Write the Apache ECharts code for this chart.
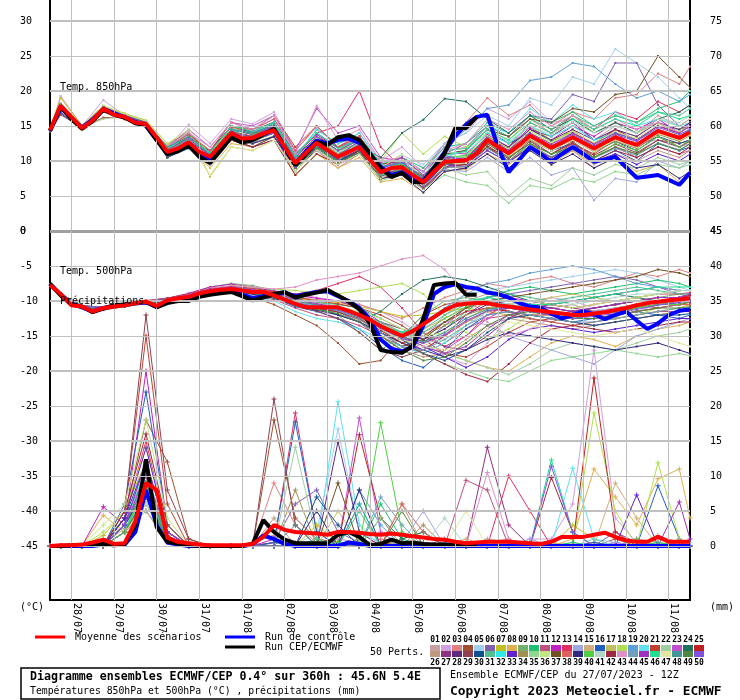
<!DOCTYPE html>
<html><head><meta charset="utf-8">
<script src="https://cdn.jsdelivr.net/npm/echarts@6/dist/echarts.min.js"></script>
<style>html,body{margin:0;padding:0;background:#fff}#c{width:740px;height:700px}</style>
</head><body><div id="c"></div>
<script>
// ---------- DATA ----------
const hours6 = [0,6,12,18,24,30,36,42,48,54,60,66,72,78,84,90,96,102,108,114,120,126,132,138,144,150,156,162,168,174,180,186,192,198,204,210,216,222,228,234,240,246,252,258,264,270,276,282,288,294,300,306,312,318,324,330,336,342,348,354,360];
const memberHours = [0,6,18,30,42,54,66,78,90,102,114,126,138,150,162,174,186,198,210,222,234,246,258,270,282,294,306,318,330,342,354,360];
const dateHours = [12,36,60,84,108,132,156,180,204,228,252,276,300,324,348];
const dateLabels = ['28/07','29/07','30/07','31/07','01/08','02/08','03/08','04/08','05/08','06/08','07/08','08/08','09/08','10/08','11/08'];
const leftUpperTicks = [0,5,10,15,20,25,30];
const rightUpperTicks = [45,50,55,60,65,70,75];
const leftLowerTicks = [0,-5,-10,-15,-20,-25,-30,-35,-40,-45];
const rightLowerTicks = [0,5,10,15,20,25,30,35,40,45];

const mean850 = [14.4,17.9,16.3,14.7,15.8,17.5,16.6,16.3,15.5,15.3,13.4,11.3,11.8,12.7,11.3,10.6,12.3,14.0,13.2,13.3,13.9,14.4,12.0,9.7,11.2,12.6,11.6,10.6,11.3,12.0,10.2,8.4,9.0,9.1,8.0,7.0,8.5,9.9,10.0,10.1,11.1,13.0,12.0,11.1,12.3,13.6,12.8,11.9,12.6,13.4,12.6,11.8,12.6,13.4,12.8,12.3,13.3,14.3,13.8,13.3,14.1];
const ctrl850 = [14.3,17.6,16.2,14.8,15.9,17.4,16.8,16.2,15.6,15.0,13.0,11.0,11.6,12.4,11.0,10.0,11.8,13.6,12.8,13.1,13.8,14.5,11.8,9.6,11.4,12.9,12.5,13.0,13.2,12.6,10.8,9.2,8.0,8.4,7.6,7.2,9.0,11.3,13.6,15.2,16.3,16.6,12.0,8.4,10.2,12.0,11.0,9.9,11.0,12.0,11.0,9.9,10.2,10.6,9.1,7.6,7.8,8.0,7.3,6.6,8.3];
const oper850 = [14.3,17.8,16.0,14.6,15.7,17.3,16.6,16.2,15.4,15.1,13.0,11.0,11.4,12.2,10.6,9.7,11.5,13.4,12.6,13.0,13.8,14.6,12.0,9.4,11.0,12.7,12.3,13.4,13.7,13.0,11.1,9.0,7.7,8.3,7.0,7.0,9.0,11.1,14.7,14.7,16.3];
const mean500 = [-7.7,-9.0,-10.6,-10.8,-11.5,-11.0,-10.8,-10.6,-10.3,-10.1,-10.7,-9.9,-9.6,-9.4,-8.9,-8.6,-8.4,-8.3,-8.5,-8.7,-8.7,-9.2,-9.8,-10.4,-10.9,-10.9,-10.9,-10.9,-11.4,-12.0,-12.7,-13.6,-14.3,-15.0,-14.3,-13.3,-12.3,-11.3,-10.6,-10.4,-10.3,-10.3,-10.6,-10.8,-11.0,-11.2,-11.4,-11.6,-11.8,-12.0,-12.0,-11.8,-11.6,-11.3,-11.0,-10.6,-10.3,-10.1,-9.9,-9.8,-9.6];
const ctrl500 = [-7.6,-9.1,-10.4,-10.9,-11.5,-11.0,-10.7,-10.5,-10.3,-10.2,-10.8,-10.2,-9.9,-9.8,-9.3,-9.0,-8.8,-8.6,-9.1,-9.6,-9.3,-9.1,-8.8,-9.3,-9.0,-8.7,-8.6,-9.3,-10.0,-11.0,-12.6,-15.5,-16.8,-17.2,-16.6,-13.5,-9.0,-8.0,-7.6,-8.0,-8.2,-8.8,-9.0,-9.5,-10.3,-10.8,-11.0,-11.8,-12.5,-12.0,-11.5,-11.9,-12.6,-12.0,-11.5,-12.8,-14.0,-13.2,-12.0,-11.4,-11.2];
const oper500 = [-7.5,-9.2,-10.5,-10.8,-11.6,-11.1,-10.6,-10.5,-10.2,-10.1,-10.9,-10.3,-10.0,-10.0,-9.4,-9.1,-8.9,-8.7,-9.3,-9.9,-9.5,-9.0,-8.7,-9.5,-9.1,-8.8,-8.4,-9.2,-10.1,-11.2,-13.2,-17.0,-17.3,-17.4,-16.4,-12.5,-7.7,-7.5,-7.4,-9.1,-9.1];
const meanPrecip = [0,0.1,0.1,0.2,0.5,0.9,0.3,0.4,3.5,9.0,8.0,1.2,0.6,0.4,0.2,0.1,0.1,0.1,0.1,0.3,1.3,3.0,2.3,2.0,1.9,1.8,1.6,2.0,2.0,1.9,1.7,1.6,1.8,1.6,1.4,1.2,1.0,0.9,0.6,0.4,0.5,0.6,0.6,0.6,0.5,0.4,0.3,0.6,1.3,1.3,1.3,1.6,1.9,1.3,0.8,0.6,0.6,1.3,0.6,0.6,0.6];
const ctrlPrecip = [0,0,0,0,0,0.2,0.1,0.2,2,8,3,0.5,0.2,0,0,0,0,0,0,0.2,1.5,1,0.3,0,0,0,0,0,0.5,0.3,0,0,0,0,0,0,0,0,0,0,0,0,0,0,0,0,0,0,0,0,0,0,0,0,0,0,0,0,0,0,0];
const operPrecip = [0,0,0.1,0.1,0.2,0.3,0.1,0.3,3.0,12.4,2.7,0.6,0.3,0.1,0,0,0,0,0,0.3,3.7,2.0,0.9,0.4,0.4,0.4,0.4,1.6,2.0,1.3,0.1,0.3,0.9,0.4,0.5,0.3,0.2,0.2,0.1,0.1,0.1];

const memberColors = ['#c8a0a0','#d0a0e0','#e08080','#a05030','#a0d0f0','#8060b0','#c0c020','#e0b050','#70b070','#20c070','#c05080','#c020c0','#e03060','#a0a8e0','#d0b080','#2060c0','#c0c060','#b0e050','#60a0d8','#60e0f0','#c04030','#a0d0a0','#c050d0','#207060','#c02020',
'#c09880','#903080','#602880','#904050','#105090','#50c090','#30e8e8','#6020d0','#a09050','#90d890','#c0e880','#705020','#e06060','#302880','#50d040','#b0d8c8','#a02840','#e090c8','#70a0b8','#a030c0','#20e090','#e0e8a0','#409898','#508840','#8050e0'];

const members850 = [
[14.5,18.2,14.9,17.8,16.0,15.0,12.3,14.2,11.1,15.0,13.8,15.4,11.2,13.6,10.6,13.0,9.9,10.1,7.5,11.4,12.0,15.0,13.5,16.0,14.0,15.5,13.0,15.0,14.0,16.5,15.0,16.0],
[14.3,19.3,15.0,18.7,16.5,15.5,12.0,15.2,12.5,16.0,15.3,17.0,11.5,14.8,12.0,14.0,10.0,12.0,9.0,12.5,14.0,17.5,16.0,18.5,15.5,16.0,13.0,14.5,12.5,13.0,12.0,12.5],
[14.6,18.0,14.5,17.2,16.4,15.6,11.8,13.2,9.5,13.0,12.0,13.5,8.5,11.5,9.0,11.0,8.0,9.5,8.5,12.5,15.5,19.0,16.5,18.0,15.0,17.0,16.0,19.0,19.5,22.5,21.0,23.5],
[14.2,16.6,14.8,16.2,16.2,15.0,11.0,12.0,9.8,13.0,12.5,14.5,10.0,13.5,11.5,13.0,9.0,8.5,6.0,8.5,9.0,12.0,10.5,12.5,11.0,12.8,10.5,12.0,11.0,13.0,12.5,13.0],
[14.4,17.8,14.6,17.6,16.6,15.4,11.6,13.5,11.5,15.0,14.0,15.5,10.5,14.0,12.0,13.0,9.5,10.8,9.5,12.5,14.0,16.5,15.0,19.0,18.0,22.0,21.0,26.0,24.0,22.0,19.0,17.5],
[14.3,18.1,14.5,17.4,16.1,15.2,10.5,12.0,9.5,13.0,12.5,13.5,9.0,12.0,10.0,11.5,8.0,9.5,7.8,11.0,12.5,15.0,13.5,16.5,16.0,19.5,18.5,24.0,24.0,18.0,15.0,14.5],
[14.6,19.0,15.1,17.9,16.8,15.8,12.5,14.0,7.8,12.0,11.5,13.0,8.0,11.0,9.5,11.5,7.5,9.0,6.5,10.0,10.8,13.5,11.5,14.0,12.5,14.5,12.0,13.5,12.0,14.5,13.0,14.0],
[14.4,17.6,14.4,17.1,15.9,14.9,10.8,12.2,9.0,12.5,12.0,13.0,8.0,11.0,9.0,10.5,7.0,7.5,5.5,8.5,8.8,11.0,9.5,11.5,9.5,11.5,9.0,10.5,8.5,9.5,7.0,8.0],
[14.5,17.9,14.8,17.6,16.4,15.3,11.8,13.5,11.5,15.0,14.5,15.5,10.5,14.5,12.5,13.5,9.5,10.0,7.5,10.5,10.5,13.2,11.8,14.5,12.8,14.2,12.5,14.0,13.0,15.0,14.5,15.0],
[14.3,18.0,14.6,17.5,16.2,15.1,11.1,12.6,10.0,13.5,13.0,14.0,9.5,13.0,11.5,13.0,9.5,10.5,9.0,12.0,12.5,15.5,14.0,16.5,15.5,17.0,15.0,16.5,15.5,17.5,18.5,20.0],
[14.4,17.7,14.7,17.3,16.3,15.4,11.5,12.9,10.9,14.3,13.5,14.8,9.5,12.0,10.0,11.0,7.5,8.5,6.5,9.0,10.2,12.5,10.8,13.0,11.0,12.5,10.5,12.0,10.5,12.0,11.0,11.5],
[14.5,18.1,14.9,17.7,16.5,15.5,11.7,13.3,11.4,14.9,14.2,15.6,11.0,13.8,11.8,13.2,9.8,10.5,8.5,11.2,11.0,13.8,12.0,14.8,13.0,15.0,13.5,15.5,14.5,16.0,14.0,15.5],
[14.3,17.8,14.6,17.4,16.3,15.2,11.0,12.5,10.5,14.5,14.0,15.0,10.5,14.0,15.0,20.0,12.0,9.0,7.0,9.5,10.0,13.0,12.0,15.5,14.0,16.5,14.5,17.0,16.0,18.5,17.0,18.0],
[14.4,17.9,14.7,17.5,16.2,15.2,11.1,12.4,10.3,13.6,12.9,14.0,9.2,12.1,10.2,11.5,7.8,8.5,6.2,8.8,8.5,10.5,8.5,10.5,8.0,9.0,4.4,7.5,7.0,10.0,9.0,10.0],
[14.5,18.0,14.8,17.6,16.4,15.4,12.0,14.0,11.0,14.5,14.0,15.5,11.0,13.0,10.0,12.5,8.0,9.0,6.5,9.5,9.8,12.5,10.5,13.0,11.5,13.5,12.0,14.5,13.5,16.0,15.0,16.0],
[14.2,16.8,14.6,17.3,16.1,15.0,10.5,11.8,9.5,13.0,12.0,13.0,8.5,12.0,11.0,12.5,9.0,9.5,8.0,11.0,11.5,14.5,12.5,14.0,11.5,12.5,10.0,11.5,10.0,12.5,11.5,12.0],
[14.6,18.2,15.0,17.8,16.7,15.7,11.7,13.1,11.1,14.5,13.7,14.9,10.3,13.2,11.2,12.6,9.0,9.6,7.6,10.8,11.5,14.5,13.0,16.0,14.5,16.5,14.0,15.5,14.0,15.5,13.5,14.5],
[14.4,17.8,14.6,17.5,16.3,15.3,12.0,13.0,10.0,13.5,13.0,14.5,10.0,12.5,11.5,13.0,10.0,14.0,11.0,13.5,12.0,14.0,12.5,15.0,13.0,14.0,12.0,13.5,12.5,14.0,13.0,14.0],
[14.5,18.0,14.8,17.6,16.4,15.3,11.0,13.5,11.0,15.0,14.5,16.0,11.0,14.0,12.0,13.0,9.0,10.0,8.5,12.0,14.5,17.5,18.0,21.5,22.0,24.0,23.5,21.0,19.0,20.0,18.5,19.5],
[14.4,17.9,14.7,17.5,16.3,15.3,11.3,12.8,10.9,14.4,13.8,15.0,10.6,13.4,11.4,12.6,9.0,9.2,7.0,10.5,11.5,15.0,14.0,17.5,15.5,18.0,16.0,17.0,15.0,16.0,15.0,15.5],
[14.3,17.7,14.5,17.3,16.1,15.1,11.5,13.5,11.5,15.5,14.5,16.5,12.0,15.0,12.0,13.5,9.0,8.8,6.8,9.6,9.5,12.0,10.0,12.5,10.5,12.5,11.0,13.0,12.0,14.0,13.5,14.5],
[14.5,17.9,14.8,16.0,16.4,15.4,11.0,12.0,9.5,13.0,12.5,13.5,9.0,11.5,10.0,11.0,8.0,8.5,6.5,9.0,8.0,8.5,5.0,7.5,6.5,9.0,8.0,9.5,9.0,10.5,9.5,10.0],
[14.4,17.8,14.7,17.4,16.2,15.2,12.0,14.5,12.0,15.5,15.0,16.5,11.5,17.5,14.0,15.0,10.5,10.0,7.5,10.0,10.0,12.8,11.0,13.5,11.8,13.3,11.7,13.3,12.2,14.2,13.2,14.0],
[14.3,17.7,14.5,17.3,16.1,15.1,11.1,12.5,10.4,13.8,13.1,14.2,9.5,12.5,10.8,12.2,10.5,14.0,15.9,18.9,18.5,16.0,14.0,16.5,14.5,16.0,14.0,15.5,14.0,16.0,17.0,18.0],
[14.5,18.1,14.9,17.7,16.5,15.5,11.5,12.9,10.8,14.2,13.5,14.6,9.9,13.5,12.0,13.5,9.5,10.0,7.2,10.0,10.2,13.0,11.0,13.5,12.0,14.0,12.5,14.5,13.0,15.0,14.0,15.0],
[14.4,17.9,14.7,17.5,16.3,15.3,11.2,12.6,10.5,13.9,13.2,14.3,9.0,11.5,9.5,11.0,7.5,8.6,6.5,9.2,9.0,11.5,9.8,12.0,10.0,11.5,9.5,11.0,10.0,11.5,10.5,11.5],
[14.3,17.0,14.5,17.2,16.0,15.0,10.9,12.3,10.2,13.6,12.9,14.0,9.3,12.2,10.2,11.6,8.1,8.8,6.7,9.5,9.8,12.8,11.5,14.5,13.5,15.5,13.0,14.0,12.0,13.5,12.0,13.0],
[14.5,18.0,14.8,17.6,16.4,15.4,12.0,13.8,11.5,15.0,14.0,15.0,10.0,12.0,10.0,11.0,7.5,8.0,6.0,9.0,10.5,13.5,12.0,14.5,13.0,14.5,13.0,14.5,13.5,15.5,14.5,15.5],
[14.4,17.8,14.6,17.4,16.2,15.2,10.8,12.0,10.0,13.5,13.5,15.5,11.0,13.0,11.0,12.5,8.0,9.5,7.5,10.5,9.6,12.2,10.3,12.8,11.0,12.6,10.8,12.4,11.2,13.0,12.0,12.8],
[14.3,17.7,14.6,17.3,16.2,15.1,10.6,12.0,10.8,14.5,13.8,15.0,10.2,13.0,10.0,11.2,8.8,9.8,7.2,10.2,9.7,12.5,10.8,13.2,11.6,13.0,11.4,12.8,11.5,13.5,12.5,13.0],
[14.5,18.1,14.9,17.8,16.6,15.6,12.0,14.0,11.5,14.5,13.0,14.0,9.0,12.0,10.0,11.5,8.0,9.5,8.0,11.5,11.8,15.0,13.5,16.0,14.5,16.5,15.0,16.5,15.5,17.0,16.5,17.5],
[14.4,17.9,14.7,17.5,16.3,15.3,11.5,13.0,11.0,14.5,14.0,15.5,10.5,14.5,12.5,14.0,9.5,9.0,7.0,10.0,10.8,14.0,12.5,15.0,13.5,15.0,13.0,14.0,13.0,14.5,13.5,14.5],
[14.3,17.8,14.6,17.4,16.2,15.2,10.8,12.0,9.8,13.2,12.5,13.5,9.0,11.5,9.5,11.0,7.5,8.5,6.5,9.5,9.2,11.5,9.8,12.0,10.5,12.0,10.0,11.0,9.5,11.0,10.0,11.0],
[14.5,18.0,14.8,17.6,16.4,15.4,11.8,13.5,11.2,14.8,13.8,14.8,10.2,13.0,11.0,12.5,9.0,9.5,7.2,10.0,9.9,12.5,10.8,13.0,11.5,13.0,11.3,12.8,11.8,13.8,12.8,13.6],
[14.4,17.9,14.7,17.5,16.3,15.3,11.0,12.3,10.0,13.2,12.5,13.6,9.0,11.8,9.8,11.0,7.2,8.0,6.0,8.0,7.0,6.5,4.0,6.5,6.0,7.5,7.0,8.5,8.0,9.5,9.0,9.5],
[14.6,18.2,15.0,17.9,16.7,15.7,12.5,14.5,11.0,15.0,13.0,14.0,8.5,12.0,10.0,13.0,9.0,11.0,8.0,10.5,10.6,13.6,11.8,14.3,12.6,14.2,12.6,14.2,13.2,15.2,14.2,15.0],
[14.3,17.7,14.5,17.3,16.1,15.1,10.5,12.0,10.0,13.0,12.0,13.5,9.0,12.0,10.5,12.0,8.5,9.5,7.8,11.0,11.5,14.5,13.5,16.0,15.5,17.5,17.0,19.5,20.0,25.0,22.0,20.5],
[14.4,17.8,14.6,17.4,16.2,15.2,11.8,13.8,11.5,14.8,14.5,16.0,11.5,15.0,12.0,13.5,9.0,10.0,7.5,10.0,9.9,12.9,11.0,13.5,11.8,13.3,11.7,13.3,12.2,14.2,13.2,14.0],
[14.5,18.0,14.8,17.6,16.4,15.4,11.0,12.0,10.0,13.5,12.5,13.5,9.0,12.0,10.0,11.5,7.5,8.0,5.5,8.5,9.0,11.0,9.0,11.5,9.5,11.0,9.0,10.5,9.0,9.5,7.5,8.5],
[14.4,17.9,14.7,17.5,16.3,15.3,11.5,13.2,11.0,14.0,13.5,14.5,10.0,13.5,11.5,12.5,9.0,9.3,7.5,10.5,10.8,12.0,10.0,12.5,11.0,12.0,10.5,12.5,11.5,13.5,12.0,13.0],
[14.3,17.8,14.6,17.4,16.2,15.2,11.0,12.2,10.2,13.5,13.0,14.5,9.8,13.5,11.2,12.5,8.8,9.8,8.0,11.2,11.2,14.2,12.8,15.0,13.8,15.5,14.0,15.0,14.0,16.0,15.5,16.5],
[14.5,18.0,14.8,17.6,16.4,15.4,11.0,12.5,10.0,13.0,12.0,13.0,8.0,11.0,9.5,11.5,7.5,8.5,6.2,9.0,9.5,12.0,10.0,12.0,10.5,12.0,10.0,11.5,10.5,12.0,11.0,12.0],
[14.4,17.9,14.7,17.5,16.3,15.3,12.0,14.0,12.0,15.5,14.5,16.5,11.0,17.9,13.0,14.5,10.0,10.5,8.5,11.5,12.5,16.0,14.5,17.0,15.0,16.5,14.5,16.0,14.5,15.5,14.0,15.0],
[14.3,17.7,14.5,17.3,16.1,15.1,11.5,13.0,11.0,14.5,14.0,15.0,10.0,13.0,10.8,12.0,8.0,8.5,6.5,9.0,9.3,11.8,10.0,12.2,10.6,12.0,10.4,11.8,10.8,12.6,11.6,12.4],
[14.5,18.1,14.9,17.7,16.5,15.5,11.2,12.5,10.5,14.0,13.5,15.0,10.5,13.5,11.5,13.0,9.0,10.5,8.0,10.5,10.3,13.3,11.5,14.0,12.4,14.0,12.4,14.0,13.0,15.0,14.0,15.0],
[14.4,17.8,14.6,17.4,16.2,15.2,11.8,13.5,11.2,15.0,14.2,15.5,10.8,14.0,11.8,13.0,9.2,9.6,7.6,10.8,11.4,14.5,13.0,15.5,14.0,16.0,14.5,16.0,15.0,17.0,16.0,16.5],
[14.3,17.7,14.5,17.3,16.1,15.1,11.1,12.5,8.0,12.0,11.5,13.0,8.5,11.5,9.5,11.0,7.5,8.9,6.8,9.6,9.7,12.6,10.7,13.2,11.5,13.0,11.4,13.0,12.0,14.0,13.0,13.8],
[14.5,18.0,14.8,17.6,16.4,15.4,12.0,13.5,11.0,14.5,14.0,15.2,10.5,12.0,10.0,12.5,9.0,10.0,7.0,9.5,10.2,13.1,11.2,13.7,12.0,13.5,11.9,13.5,12.4,14.4,13.4,14.2],
[14.4,17.9,14.7,17.5,16.3,15.3,10.8,12.0,9.8,13.2,12.8,14.0,9.0,11.8,9.8,11.2,7.8,8.8,6.8,9.5,10.0,12.5,10.5,12.5,11.0,12.0,10.5,12.0,11.0,12.5,11.5,12.5],
[14.3,17.8,14.6,17.4,16.2,15.2,11.6,13.2,10.8,14.2,13.0,14.0,9.2,12.5,10.8,12.8,9.0,9.8,7.5,10.8,10.0,13.0,11.2,13.8,12.2,13.8,12.2,13.8,12.8,14.8,13.8,14.5]
];

const members500 = [
[-7.6,-9.1,-10.7,-11.2,-10.5,-10.0,-9.6,-9.0,-8.2,-8.0,-8.5,-9.0,-9.6,-10.2,-11.0,-12.5,-15.0,-17.0,-15.5,-12.0,-10.0,-9.0,-9.5,-10.5,-11.0,-10.5,-11.5,-12.0,-11.0,-10.0,-9.5,-9.2],
[-7.8,-8.9,-10.9,-10.9,-10.7,-10.3,-10.2,-9.8,-8.8,-8.0,-8.2,-8.5,-9.0,-9.5,-10.0,-10.5,-11.5,-13.0,-15.0,-18.0,-19.0,-16.0,-12.5,-10.5,-9.5,-10.0,-11.0,-12.0,-11.5,-10.5,-10.0,-9.8],
[-7.7,-9.0,-10.6,-11.1,-10.4,-9.9,-9.6,-9.2,-8.5,-8.2,-8.6,-9.0,-9.5,-9.8,-10.0,-10.5,-11.5,-12.5,-11.0,-9.5,-8.5,-7.5,-8.0,-7.0,-6.5,-7.5,-8.0,-7.0,-6.0,-6.5,-5.5,-6.0],
[-7.6,-9.2,-10.8,-11.3,-10.8,-10.4,-10.2,-9.8,-9.0,-8.8,-9.5,-10.5,-12.0,-13.5,-16.0,-19.0,-18.5,-15.0,-12.0,-10.5,-10.0,-10.5,-11.5,-12.5,-13.0,-12.0,-11.5,-11.0,-10.5,-11.0,-10.5,-10.0],
[-7.8,-9.0,-10.7,-10.9,-10.5,-10.0,-9.7,-9.1,-8.3,-8.0,-8.4,-9.0,-9.8,-10.3,-10.8,-12.0,-14.0,-16.0,-14.0,-11.0,-9.0,-8.5,-8.0,-7.5,-7.0,-6.5,-6.0,-5.5,-6.0,-7.0,-8.0,-8.5],
[-7.7,-9.1,-10.8,-11.0,-10.6,-10.2,-10.0,-9.5,-8.7,-8.4,-8.8,-9.4,-10.5,-11.0,-11.5,-13.0,-15.5,-17.5,-16.0,-13.5,-11.0,-9.5,-9.0,-8.5,-8.0,-7.5,-7.0,-6.5,-7.0,-8.0,-9.0,-9.5],
[-7.6,-8.9,-10.8,-11.1,-10.7,-10.1,-9.8,-9.2,-8.4,-8.1,-8.4,-8.8,-9.5,-10.0,-10.2,-10.8,-11.5,-12.2,-12.0,-11.5,-11.0,-11.5,-12.0,-12.5,-13.0,-13.5,-13.0,-12.5,-12.0,-11.5,-11.0,-10.5],
[-7.8,-9.1,-10.9,-11.2,-10.8,-10.3,-10.1,-9.6,-8.8,-8.5,-8.9,-9.4,-10.2,-10.8,-11.2,-12.0,-13.0,-14.5,-16.0,-17.5,-18.5,-19.5,-20.0,-18.0,-16.0,-15.0,-15.5,-16.5,-15.0,-14.0,-13.5,-13.0],
[-7.7,-9.0,-10.7,-11.0,-10.5,-10.0,-9.7,-9.0,-8.0,-7.5,-7.8,-8.5,-9.5,-10.5,-12.0,-14.5,-17.0,-15.0,-12.0,-10.0,-9.5,-10.0,-10.5,-11.0,-11.5,-12.0,-11.0,-10.5,-10.0,-9.5,-9.0,-9.0],
[-7.6,-9.0,-10.8,-11.0,-10.6,-10.1,-9.9,-9.4,-8.6,-8.3,-8.6,-9.0,-9.8,-10.2,-10.5,-11.0,-12.5,-14.0,-15.5,-14.0,-11.5,-9.5,-8.5,-8.0,-8.5,-9.0,-8.5,-8.0,-7.5,-7.0,-7.5,-8.0],
[-7.7,-9.1,-10.9,-11.1,-10.7,-10.2,-10.0,-9.6,-8.9,-8.7,-9.2,-9.8,-11.0,-12.0,-12.5,-13.5,-15.0,-16.5,-17.5,-16.0,-14.0,-12.5,-12.0,-12.5,-13.0,-13.5,-13.0,-12.5,-12.0,-11.5,-11.5,-11.0],
[-7.8,-9.0,-10.7,-10.9,-10.5,-10.0,-9.6,-8.9,-8.0,-7.6,-8.0,-8.6,-9.2,-9.6,-10.0,-11.0,-13.0,-15.5,-17.0,-15.0,-12.0,-10.0,-9.5,-10.0,-10.5,-10.0,-9.5,-9.0,-8.5,-8.0,-8.5,-8.5],
[-7.7,-9.0,-10.8,-11.0,-10.6,-10.1,-9.8,-9.2,-8.3,-8.0,-8.3,-8.8,-9.0,-8.5,-7.5,-6.5,-8.0,-11.0,-14.5,-16.5,-15.0,-12.0,-10.5,-10.0,-10.5,-11.0,-10.5,-10.0,-9.5,-9.0,-9.0,-8.8],
[-7.6,-9.1,-10.8,-11.1,-10.6,-10.2,-10.0,-9.5,-8.7,-8.4,-8.8,-9.3,-10.2,-10.8,-11.2,-12.0,-13.5,-15.0,-14.5,-13.0,-12.5,-13.5,-15.0,-16.0,-17.0,-18.0,-19.0,-17.0,-15.0,-14.0,-13.0,-12.5],
[-7.7,-9.0,-10.7,-11.0,-10.6,-10.0,-9.8,-9.3,-8.5,-8.2,-8.6,-9.1,-10.0,-10.6,-11.0,-12.0,-13.5,-15.0,-14.0,-12.5,-11.0,-10.5,-11.0,-11.5,-12.0,-12.5,-12.0,-11.5,-11.0,-10.5,-10.0,-9.8],
[-7.8,-9.1,-10.9,-11.1,-10.7,-10.2,-10.0,-9.5,-8.8,-8.6,-9.0,-9.6,-10.8,-11.5,-12.5,-14.0,-16.5,-18.5,-19.5,-17.0,-14.0,-12.0,-11.5,-12.0,-12.5,-13.0,-12.5,-12.0,-11.5,-12.0,-12.5,-12.0],
[-7.7,-9.0,-10.8,-11.0,-10.6,-10.1,-9.9,-9.4,-8.6,-8.3,-8.7,-9.2,-10.2,-10.8,-11.5,-12.5,-14.0,-15.5,-16.0,-14.5,-12.5,-11.0,-10.5,-10.0,-9.5,-9.0,-9.5,-10.0,-9.5,-9.0,-8.5,-8.5],
[-7.6,-8.9,-10.7,-10.9,-10.5,-10.0,-9.7,-9.1,-8.2,-7.8,-8.0,-8.3,-8.5,-8.8,-9.0,-8.5,-8.0,-7.5,-9.0,-12.0,-14.5,-15.5,-14.0,-12.0,-11.0,-11.5,-12.0,-12.5,-12.0,-11.0,-10.5,-10.0],
[-7.7,-9.0,-10.8,-11.0,-10.6,-10.1,-9.9,-9.4,-8.6,-8.3,-8.7,-9.2,-10.0,-10.5,-11.0,-12.0,-13.5,-14.5,-13.0,-11.0,-9.0,-7.5,-7.0,-6.0,-5.5,-5.0,-5.5,-6.5,-7.5,-8.0,-8.5,-8.5],
[-7.8,-9.1,-10.9,-11.2,-10.8,-10.3,-10.1,-9.7,-9.0,-8.8,-9.3,-10.0,-11.5,-12.5,-13.0,-14.0,-15.5,-16.5,-15.0,-13.0,-11.0,-10.0,-10.5,-11.0,-11.5,-12.0,-11.5,-11.0,-10.5,-10.0,-9.5,-9.5],
[-7.6,-9.0,-10.7,-10.9,-10.5,-10.0,-9.6,-9.0,-8.2,-7.9,-8.2,-8.7,-9.4,-10.0,-10.4,-11.0,-12.0,-13.5,-15.5,-17.5,-18.0,-16.5,-14.5,-13.0,-12.5,-13.0,-13.5,-13.0,-12.5,-12.0,-11.5,-11.5],
[-7.7,-9.1,-10.8,-11.1,-10.7,-10.2,-10.0,-9.5,-8.7,-8.4,-8.8,-9.4,-10.4,-11.0,-11.5,-12.5,-14.0,-15.5,-16.5,-17.5,-18.5,-19.5,-20.5,-19.0,-17.0,-16.0,-16.5,-17.0,-16.0,-15.0,-14.5,-14.0],
[-7.8,-9.0,-10.7,-11.0,-10.6,-10.1,-9.8,-9.2,-8.4,-8.1,-8.5,-9.0,-9.8,-10.3,-10.8,-11.8,-13.5,-15.0,-16.5,-17.0,-15.0,-12.5,-11.0,-10.5,-11.0,-11.5,-12.0,-11.5,-11.0,-10.5,-10.0,-10.0],
[-7.7,-9.0,-10.8,-11.0,-10.6,-10.1,-9.9,-9.4,-8.6,-8.3,-8.7,-9.2,-10.2,-11.0,-12.0,-13.0,-11.5,-9.0,-7.0,-6.5,-7.0,-8.0,-9.0,-10.0,-10.5,-10.0,-9.5,-9.0,-9.5,-10.0,-10.5,-10.0],
[-7.6,-9.0,-10.8,-11.1,-10.6,-10.2,-10.0,-9.5,-8.7,-8.4,-8.8,-9.3,-10.3,-10.9,-11.5,-12.5,-14.5,-16.0,-15.0,-13.0,-11.5,-11.0,-11.5,-12.0,-12.0,-11.5,-11.0,-10.5,-10.0,-9.5,-9.5,-9.2],
[-7.7,-9.1,-10.9,-11.0,-10.7,-10.1,-9.9,-9.3,-8.5,-8.2,-8.6,-9.1,-10.1,-10.7,-11.3,-12.8,-15.0,-17.0,-18.0,-17.5,-15.5,-13.5,-12.5,-13.0,-13.5,-14.0,-13.5,-13.0,-12.5,-12.0,-11.5,-11.0],
[-7.8,-9.0,-10.7,-10.9,-10.5,-10.0,-9.7,-9.1,-8.3,-8.0,-8.4,-8.9,-9.7,-10.3,-10.8,-11.8,-13.0,-14.0,-15.0,-16.5,-17.0,-15.0,-12.5,-11.0,-10.5,-11.0,-11.5,-12.0,-11.5,-11.0,-10.5,-10.5],
[-7.7,-9.0,-10.8,-11.0,-10.6,-10.1,-9.9,-9.4,-8.6,-8.3,-8.7,-9.2,-10.2,-10.8,-11.2,-12.0,-13.2,-14.8,-15.5,-14.0,-12.0,-10.5,-10.0,-10.5,-11.0,-11.5,-11.0,-10.5,-10.0,-10.0,-9.5,-9.5],
[-7.6,-9.1,-10.9,-11.2,-10.8,-10.3,-10.1,-9.6,-8.8,-8.5,-8.9,-9.5,-10.6,-11.4,-12.5,-14.5,-17.0,-18.0,-17.0,-15.0,-13.0,-11.5,-11.0,-11.5,-12.0,-12.5,-12.0,-11.5,-11.0,-10.5,-10.5,-10.2],
[-7.7,-9.0,-10.7,-11.0,-10.6,-10.0,-9.8,-9.3,-8.5,-8.2,-8.6,-9.1,-10.0,-10.5,-11.0,-12.0,-13.5,-15.5,-17.5,-18.5,-17.0,-14.5,-12.5,-12.0,-12.5,-13.0,-13.5,-13.0,-12.5,-12.0,-12.0,-11.8],
[-7.8,-9.1,-10.8,-11.1,-10.7,-10.2,-10.0,-9.5,-8.7,-8.4,-8.8,-9.3,-10.1,-10.6,-11.0,-11.8,-13.0,-14.5,-14.0,-12.0,-10.5,-9.5,-9.0,-9.5,-10.0,-9.5,-9.0,-8.5,-8.0,-8.5,-9.0,-9.0],
[-7.7,-9.0,-10.8,-11.0,-10.6,-10.1,-9.9,-9.4,-8.6,-8.3,-8.7,-9.2,-10.0,-10.6,-11.2,-12.5,-14.5,-16.5,-17.5,-16.0,-13.5,-11.5,-10.5,-11.0,-11.5,-12.0,-11.5,-11.0,-10.5,-10.0,-10.0,-9.8],
[-7.6,-9.0,-10.7,-10.9,-10.5,-10.0,-9.7,-9.2,-8.4,-8.1,-8.5,-9.0,-9.9,-10.5,-11.0,-12.0,-13.5,-15.0,-16.5,-18.0,-19.5,-18.0,-15.5,-14.0,-13.5,-14.0,-14.5,-14.0,-13.5,-13.0,-12.5,-12.5],
[-7.7,-9.1,-10.9,-11.1,-10.7,-10.2,-10.0,-9.5,-8.7,-8.4,-8.8,-9.3,-10.3,-10.9,-11.4,-12.4,-14.0,-15.5,-15.0,-13.5,-12.0,-11.0,-11.0,-11.5,-12.0,-12.5,-12.0,-11.5,-11.0,-10.5,-10.0,-10.0],
[-7.8,-9.0,-10.8,-11.0,-10.6,-10.1,-9.9,-9.4,-8.6,-8.3,-8.7,-9.2,-10.2,-10.8,-11.5,-12.5,-14.0,-16.0,-17.5,-19.0,-20.0,-21.0,-21.5,-20.0,-18.5,-18.0,-17.5,-17.0,-17.5,-18.0,-17.5,-17.8],
[-7.7,-9.0,-10.7,-11.0,-10.6,-10.1,-9.8,-9.2,-8.4,-8.1,-8.5,-9.0,-9.9,-10.4,-10.8,-11.5,-12.5,-14.0,-15.0,-14.5,-13.0,-11.5,-10.5,-10.0,-10.5,-11.0,-10.5,-10.0,-9.5,-9.0,-8.5,-8.5],
[-7.6,-9.1,-10.8,-11.1,-10.7,-10.2,-10.0,-9.5,-8.7,-8.4,-8.8,-9.4,-10.4,-11.0,-11.5,-12.5,-14.5,-16.5,-15.5,-13.0,-11.0,-10.0,-9.5,-9.0,-8.5,-8.0,-7.5,-7.0,-6.5,-5.5,-6.0,-6.5],
[-7.7,-9.0,-10.8,-11.0,-10.6,-10.1,-9.9,-9.4,-8.6,-8.3,-8.7,-9.2,-10.1,-10.7,-11.2,-12.2,-13.8,-15.2,-16.0,-15.0,-13.0,-11.5,-11.0,-11.5,-12.0,-12.5,-12.5,-12.0,-11.5,-11.0,-10.5,-10.5],
[-7.8,-9.1,-10.9,-11.2,-10.8,-10.3,-10.1,-9.6,-8.9,-8.6,-9.0,-9.6,-10.6,-11.3,-12.0,-13.0,-14.5,-16.0,-17.0,-18.0,-17.0,-15.5,-14.5,-15.0,-15.5,-16.0,-16.5,-17.0,-16.5,-16.0,-17.0,-17.5],
[-7.7,-9.0,-10.8,-11.0,-10.6,-10.1,-9.9,-9.4,-8.6,-8.3,-8.7,-9.2,-10.2,-10.8,-11.3,-12.3,-13.8,-15.3,-14.5,-12.5,-10.8,-10.2,-10.8,-11.5,-12.0,-12.5,-12.0,-11.5,-11.0,-10.5,-10.5,-10.0],
[-7.6,-8.9,-10.7,-10.9,-10.5,-10.0,-9.7,-9.1,-8.3,-8.0,-8.4,-8.9,-9.8,-10.3,-10.8,-11.8,-13.2,-14.8,-16.0,-15.5,-13.5,-11.5,-10.5,-10.0,-10.0,-10.5,-10.0,-9.5,-9.0,-9.0,-8.5,-8.5],
[-7.7,-9.1,-10.9,-11.1,-10.7,-10.2,-10.0,-9.5,-8.7,-8.4,-8.8,-9.3,-10.3,-11.0,-11.6,-12.6,-14.2,-16.0,-17.5,-19.0,-20.5,-21.5,-19.0,-16.0,-14.0,-13.5,-14.0,-14.5,-14.0,-13.5,-13.0,-13.0],
[-7.8,-9.0,-10.7,-11.0,-10.6,-10.1,-9.8,-9.2,-8.2,-7.8,-8.0,-8.3,-8.0,-7.0,-6.5,-6.0,-5.0,-4.0,-3.5,-5.5,-9.0,-13.0,-15.0,-14.0,-12.5,-12.0,-11.5,-11.0,-10.5,-10.0,-9.5,-9.5],
[-7.7,-9.0,-10.8,-11.0,-10.6,-10.1,-9.9,-9.4,-8.6,-8.3,-8.7,-9.2,-10.2,-10.8,-11.4,-12.6,-14.5,-16.5,-17.0,-15.5,-13.5,-12.0,-11.5,-12.0,-12.5,-13.0,-13.0,-12.5,-12.0,-11.5,-11.0,-11.0],
[-7.6,-9.0,-10.7,-10.9,-10.5,-10.0,-9.7,-9.1,-8.3,-8.0,-8.4,-8.9,-9.8,-10.4,-10.9,-11.9,-13.4,-15.0,-16.5,-17.5,-16.5,-14.0,-12.0,-11.0,-11.0,-11.5,-11.0,-10.5,-10.0,-9.5,-9.5,-9.0],
[-7.7,-9.1,-10.9,-11.1,-10.7,-10.2,-10.0,-9.5,-8.7,-8.4,-8.8,-9.3,-10.2,-10.8,-11.2,-12.0,-13.5,-14.5,-13.5,-11.5,-10.0,-9.5,-10.0,-10.5,-10.5,-10.0,-9.5,-9.0,-8.5,-8.0,-8.0,-8.0],
[-7.8,-9.0,-10.8,-11.0,-10.6,-10.1,-9.9,-9.4,-8.6,-8.3,-8.7,-9.2,-10.1,-10.7,-11.3,-12.3,-14.0,-15.5,-16.5,-17.0,-16.0,-14.0,-13.0,-13.5,-14.0,-14.5,-15.0,-14.5,-14.0,-15.0,-16.0,-16.5],
[-7.7,-9.0,-10.7,-11.0,-10.6,-10.1,-9.8,-9.3,-8.5,-8.2,-8.6,-9.1,-10.0,-10.6,-11.1,-12.1,-13.6,-15.2,-15.8,-14.5,-12.5,-11.2,-10.8,-11.2,-11.8,-12.2,-11.8,-11.2,-10.8,-10.2,-10.0,-9.8],
[-7.6,-9.1,-10.9,-11.1,-10.7,-10.2,-10.0,-9.5,-8.7,-8.4,-8.9,-9.5,-10.5,-11.2,-11.8,-13.0,-15.0,-17.0,-18.5,-18.0,-16.0,-13.5,-12.0,-11.5,-12.0,-12.5,-12.5,-12.0,-11.5,-11.0,-11.0,-10.8],
[-7.7,-9.0,-10.8,-11.0,-10.6,-10.1,-9.9,-9.4,-8.6,-8.3,-8.7,-9.2,-10.2,-10.8,-11.3,-12.3,-13.9,-15.4,-16.0,-14.8,-12.8,-11.4,-11.0,-11.5,-12.0,-12.5,-12.2,-11.8,-11.2,-10.6,-10.2,-10.0]
];

const membersPrecip = [
[0,0,0,0.3,2.5,7,1,0,0,0,0.5,1.5,0.5,0,1,0.5,0,0,0,0.5,0,1,0.5,0,0,0.5,0,0,1,0.5,0,0],
[0,0,0,0.5,3,10,2,0.3,0,0,0,0.5,0,0.5,0,1,0,0,0,0,0.5,0,0,1,1,6,28,4,0.5,0,0,0],
[0,0,0,0,2,5,0.5,0,0,0,0,9,3,0.5,0,0,1,0.5,0,0,0,0.5,1,0,0,0,0.5,0,0,1.5,0.5,0],
[0,0,0,0,4,18,12,1,0,0,0,18,4,1,0.5,0,0,0,0,0,0,0.5,0,0,0.5,0,0,1,0,0,0,0],
[0,0,0,0,2,6,1,0,0,0,0.5,0,0,2,16.7,2,0.5,0,0,0,0,0,0.5,0,0,0,1,0.5,0,0,0,0.5],
[0,0,0,0.5,3,9,1.5,0,0,0,0,0.5,6,8,2,0.5,0,0,0,1,0,0,0,0.5,0,0,0,2,0.5,0,0,0],
[0,0,0,1.5,5,12,2,0,0,0,0,0,0,3,0.5,0,0,0,0,0,0,0.5,0,0,0,3,1,0,0,0.5,0,0],
[0,0,0,4.4,2,6,1,0,0,0,0,0,0,0,0.5,0,0,0,0,0,0,0,0.5,0,0,1,11,7,3,9.6,11,4],
[0,0,0,0,3,7,1,0,0,0,0,0.5,0,0,0,1,0,1,2,0,0,0,0,0.5,0,0,0,0,1,0,0,0],
[0,0,0,0.5,4,10,1.5,0,0,0,0,0,0,0,0.5,0,6,1,0,0,0,0,0,0,0,0.5,0,0,0,0.5,0,0],
[0,0,0,0,2,5,1,0,0,0,0,0,0,0,0,0,0,0.5,0,0,9.4,8,0,0,0,0,0,0,0,0,0.5,0],
[0,0,0,5.6,3,25,3,0,0,0,0,1,0,0,0,0,0,0,0.5,0,0,0,0,0,0,0,0,0.5,0,0,0,0],
[0,0,0,0,4,15,2,0,0,0,0,0.5,19,2,0,0,0,0,0,0,0,0,10,5,0,0,0,0,0,0,0,0],
[0,0,0,0,2,6,1,0,0,0,0,0,0,0.5,0,0,0,0.5,5,0,0,0,0,1,0,0,0,0.5,0,0,0,0],
[0,0,0,0,3,8,1,0,0,0,0,0,0,0,0,0,0.5,0,0,0,1,0,0,0,0,0,0,9,4,0,0,0],
[0,0,0,0,6,22,3,0,0,0,0,0.5,17.7,2,0,0,0,0,0,0,0,0,0,0,0,0,0.5,0,0,8.6,1,0],
[0,0,0,0.5,3,7,1,0,0,0,0,0,0,0,5,0.5,0,0,0,0,0,0,0,0,0.5,0,0,0,0,0,0,0],
[0,0,0,2,5,14,3,0,0,0,0,0,0,0,0,0,0,0,0,0,0,0,0,0,0,0,19,5,0,11.9,1,0],
[0,0,0,0,3,8,1,0,0,0,0,0,0,0,0,8,3,0,0,0.5,0,0,0,0,0,0,0,0,0,0,0,0],
[0,0,0,0,2,10,1,0,0,0,0,0,0,0,20.6,3,0,0,0,0,0,0,0,0,0,11.1,1,0,0,0,0,0],
[0,0,0,0,5,30,6,0,0,0,0,0,0,0,0,0,0.5,0,0,0,0,0,0,0,0,0,0,0,0,0,0,0],
[0,0,0,0,2,6,2,0,0,0,0,0,14.1,1,0,0,0,0,0,0,0,0,0,0,0,0,0,0,0,0,0,0],
[0,0,0,0,3,12,2,0,0,0,0,0,0,0,0,18.3,2,0,0,0,0,0,0,0,0,0,0,0,0,0,0,0],
[0,0,0,0,2,6,1,0,0,0,0,0,0,0,0,0,4,1,2,0,0,0,0,0,0,0,0,0,0,0,0,0],
[0,0,0,0,4,10,1,0,0,0,0,0,0,0,0,15.9,4,0,0,0,0,0,0,0,0,0,24,2,0,0,0,0],
[0,0,0,0,2,8,2,0,0,0,0,4,0,0,0,0,0,6,0,0,0,0,0,0,0,0,0,0,0,0,0,0],
[0,0,0,0,3,9,1,0,0,0,0,0,0,0,0,0,0,0,0,0,0,14.1,3,0,0,0,0,0,0,0,0,0],
[0,0,0,0,2,7,1,0,0,0,0,0,0,0,14.9,2,0,0,0,0,0,0,0,0,0,0,0,0,0,0,0,0],
[0,0,0,0,5,33,8,1,0,0,0,21,3,0,0,0,0,0,0,0,0,0,0,0,0,0,0,0,0,0,0,0],
[0,0,0,0,4,12,2,0,0,0,0,0,0,7,3,0,0,0,0,0,0,0,0,0,0,0,0,0,0,0,0,0],
[0,0,0,0,2,9,1,0,0,0,0,0,0,1,0,5,0,0,0,0,0,0,0,0,0,0,0,0,0,0,0,0],
[0,0,0,0,3,11,1,0,0,0,0,0,0,0,0,6,0,0,0,0,0,0,0,0,0,0,0,0,0,0,0,0],
[0,0,0,0,4,14,2,0,0,0,0,0,0,0,0,0,0,0,0,0,0,0,0,0,0,0,0,0,7.3,0,0,0],
[0,0,0,0,2,7,1,0,0,0,0,0,8,0,0,0,0,0,3,0,0,0,0,0,0,0,0,0,0,0,0,0],
[0,0,0,0,2,5,1,0,0,0,0,0,0,0,0,0,4,0,0,0,0,0,0,0,0,0,0,0,0,0,0,0],
[0,0,0,3,6,18,4,0,0,0,0,0,0,0,0,0,0,0,0,0,0,0,0,0,0,0,0,0,0,0,0,0],
[0,0,0,0,3,8,1,0,0,0,0,0,0,0,9,0,0,0,0,0,0,0,0,0,0,0,0,0,0,0,0,0],
[0,0,0,0,3,10,1,0,0,0,0,0,0,0,0,0,0,6,2,0,0,0,0,0,0,0,0,0,0,0,0,0],
[0,0,0,0,3,8,1,0,0,0,0,0,0,5,0,8,0,0,0,0,0,0,0,0,0,0,0,0,0,0,0,0],
[0,0,0,0,2,9,1,0,0,0,0,0,0,0,0,0,17.6,2,0,0,0,0,0,0,0,0,0,0,0,0,0,0],
[0,0,0,0,2,6,1,0,0,0,0,0,0,0,0,0,0,0,0,4,0,0,0,0,0,0,0,0,0,0,0,0],
[0,0,0,0,5,16,3,0,0,0,0,0,0,0,0,0,0,0,0,0,0,0,0,0,9.8,2,0,0,0,0,0,0],
[0,0,0,0,2,8,1,0,0,0,0,0,0,0,0,0,0,0,0,0,0,10.5,1,0,0,0,0,0,0,0,0,0],
[0,0,0,0,2,7,1,0,0,0,0,0,0,0,0,0,7,3,0,0,0,0,0,0,0,0,0,0,0,0,0,0],
[0,0,0,0,3,12,2,0,0,0,0,0,0,0,0,0,0,0,0,0,0,0,0,0,0,0,0,0,0,0,6.3,1],
[0,0,0,0,2,8,1,0,0,0,0,0,0,0,0,0,0,0,0,0,0,0,0,0,12.3,2,0,0,0,0,0,0],
[0,0,0,0,2,6,1,0,0,0,0,0,0,0,0,0,0,0,0,0,5,0,0,0,0,0,0,0,0,0,0,0],
[0,0,0,0,3,9,1,0,0,0,0,0,3,0,0,6,0,0,0,0,0,0,0,0,0,0,0,0,0,0,0,0],
[0,0,0,0,2,7,1,0,0,0,0,0,0,0,0,0,0,5,0,0,0,0,0,0,0,0,0,0,0,0,0,0],
[0,0,0,0,3,10,2,0,0,0,0,0,0,0,0,0,0,0,0,0,0,0,0,0,11.4,2,0,0,0,0,0,0]
];

// ---------- CHART ----------
const FONT = 'DejaVu Sans Mono';
const GRID = '#c0c0c0';
function pts(hrs, vals) { return vals.map((v, i) => [hrs[i], v]); }

const chart = echarts.init(document.getElementById('c'), null, {renderer: 'canvas'});

function gridLines(hVals, thick) {
  const d = [];
  hVals.forEach(v => d.push({yAxis: v, lineStyle: {color: GRID, width: thick.indexOf(v) >= 0 ? 2 : 1, type: 'solid'}}));
  dateHours.forEach(h => d.push({xAxis: h, lineStyle: {color: GRID, width: 1, type: 'solid'}}));
  return d;
}

const series = [];
series.push({type: 'line', xAxisIndex: 0, yAxisIndex: 0, data: [], z: 1, silent: true,
  markLine: {silent: true, symbol: ['none', 'none'], label: {show: false}, animation: false,
    data: gridLines([5, 10, 15, 20, 25, 30], [10, 20, 30]).concat([{yAxis: 0, lineStyle: {color: '#a0a0a0', width: 3, type: 'solid'}}])}});
series.push({type: 'line', xAxisIndex: 1, yAxisIndex: 2, data: [], z: 1, silent: true,
  markLine: {silent: true, symbol: ['none', 'none'], label: {show: false}, animation: false,
    data: gridLines([-5, -10, -15, -20, -25, -30, -35, -40, -45], [-10, -20, -30, -40])}});

const plusSym = 'path://M2,0H3V5H2ZM0,2H5V3H0Z';
for (let i = 0; i < 50; i++) {
  const col = memberColors[i];
  const base = {type: 'line', silent: true, animation: false, z: 2, showSymbol: true, showAllSymbol: true,
    lineStyle: {width: 1, color: col}, itemStyle: {color: col}, emphasis: {disabled: true}};
  series.push(Object.assign({}, base, {xAxisIndex: 0, yAxisIndex: 0, symbol: 'rect', symbolSize: 2, data: pts(memberHours, members850[i])}));
  series.push(Object.assign({}, base, {xAxisIndex: 1, yAxisIndex: 2, symbol: 'rect', symbolSize: 2, data: pts(memberHours, members500[i])}));
  series.push(Object.assign({}, base, {xAxisIndex: 1, yAxisIndex: 3, symbol: plusSym, symbolSize: 5, data: pts(memberHours, membersPrecip[i])}));
}
function mainLine(x, y, data, color, width, z) {
  return {type: 'line', xAxisIndex: x, yAxisIndex: y, data: data, symbol: 'none', silent: true, animation: false, z: z,
    lineStyle: {color: color, width: width}, emphasis: {disabled: true}};
}
series.push(mainLine(0, 0, pts(hours6, ctrl850), '#0000ff', 4, 3));
series.push(mainLine(1, 2, pts(hours6, ctrl500), '#0000ff', 4, 3));
series.push(mainLine(1, 3, pts(hours6, ctrlPrecip), '#0000ff', 4, 3));
series.push(mainLine(0, 0, pts(hours6, oper850), '#000000', 4, 4));
series.push(mainLine(1, 2, pts(hours6, oper500), '#000000', 4, 4));
series.push(mainLine(1, 3, pts(hours6, operPrecip), '#000000', 4, 4));
series.push(mainLine(0, 0, pts(hours6, mean850), '#ff0000', 4, 5));
series.push(mainLine(1, 2, pts(hours6, mean500), '#ff0000', 4, 5));
series.push(mainLine(1, 3, pts(hours6, meanPrecip), '#ff0000', 4, 5));

const axisLineBlack = {show: true, onZero: false, lineStyle: {color: '#000', width: 2}};
const lblStyle = {color: '#000', fontFamily: FONT, fontSize: 10};

const graphics = [];
function txt(x, y, s, font, extra) {
  graphics.push(Object.assign({type: 'text', x: x, y: y, z: 10,
    style: {text: s, font: font || ('10px ' + FONT), fill: '#000', verticalAlign: 'middle', align: 'left'}}, extra || {}));
}
txt(60, 87, 'Temp. 850hPa');
txt(60, 271, 'Temp. 500hPa');
txt(60, 301, 'Précipitations');
txt(20, 607, '(°C)');
txt(710, 607, '(mm)');
graphics.push({type: 'line', z: 10, shape: {x1: 35, y1: 637, x2: 65, y2: 637}, style: {stroke: '#ff0000', lineWidth: 3}});
txt(75, 637, 'Moyenne des scénarios');
graphics.push({type: 'line', z: 10, shape: {x1: 225, y1: 637, x2: 255, y2: 637}, style: {stroke: '#0000ff', lineWidth: 3}});
txt(265, 637, 'Run de contrôle');
graphics.push({type: 'line', z: 10, shape: {x1: 225, y1: 647, x2: 255, y2: 647}, style: {stroke: '#000000', lineWidth: 3}});
txt(265, 647, 'Run CEP/ECMWF');
txt(370, 652, '50 Perts.');
for (let i = 0; i < 25; i++) {
  const x = 430 + 11 * i;
  graphics.push({type: 'rect', z: 10, shape: {x: x, y: 645, width: 10, height: 6}, style: {fill: memberColors[i]}});
  graphics.push({type: 'rect', z: 10, shape: {x: x, y: 651, width: 10, height: 6}, style: {fill: memberColors[i + 25]}});
  const a = String(i + 1).padStart(2, '0'), b = String(i + 26).padStart(2, '0');
  graphics.push({type: 'text', z: 10, x: x + 5, y: 640, style: {text: a, font: 'bold 8px ' + FONT, fill: '#000', align: 'center', verticalAlign: 'middle'}});
  graphics.push({type: 'text', z: 10, x: x + 5, y: 663, style: {text: b, font: 'bold 8px ' + FONT, fill: '#000', align: 'center', verticalAlign: 'middle'}});
}
graphics.push({type: 'rect', z: 10, shape: {x: 21, y: 668, width: 419, height: 31}, style: {fill: 'none', stroke: '#000', lineWidth: 1.5}});
txt(30, 677, 'Diagramme ensembles ECMWF/CEP 0.4° sur 360h : 45.6N 5.4E', 'bold 11.6px ' + FONT);
txt(30, 691, 'Températures 850hPa et 500hPa (°C) , précipitations (mm)', '9.8px ' + FONT);
txt(450, 675, 'Ensemble ECMWF/CEP du 27/07/2023 - 12Z', '10px ' + FONT);
txt(450, 692, 'Copyright 2023 Meteociel.fr - ECMWF', 'bold 12.9px ' + FONT);

chart.setOption({
  animation: false,
  backgroundColor: '#ffffff',
  grid: [
    {left: 50, right: 50, top: 0, height: 231, containLabel: false},
    {left: 50, right: 50, top: 231, height: 369, containLabel: false}
  ],
  xAxis: [
    {gridIndex: 0, type: 'value', min: 0, max: 360, axisLine: {show: false}, axisTick: {show: false}, axisLabel: {show: false}, splitLine: {show: false}},
    {gridIndex: 1, type: 'value', min: 0, max: 360, axisLine: axisLineBlack, axisTick: {show: false}, splitLine: {show: false},
      axisLabel: Object.assign({customValues: dateHours, rotate: -90, margin: 3, verticalAlign: 'bottom',
        formatter: v => dateLabels[dateHours.indexOf(v)] || ''}, lblStyle)}
  ],
  yAxis: [
    {gridIndex: 0, type: 'value', position: 'left', min: 0, max: 33, axisLine: axisLineBlack, axisTick: {show: false}, splitLine: {show: false},
      axisLabel: Object.assign({customValues: leftUpperTicks, margin: 30, align: 'left'}, lblStyle)},
    {gridIndex: 0, type: 'value', position: 'right', min: 45, max: 78, axisLine: axisLineBlack, axisTick: {show: false}, splitLine: {show: false},
      axisLabel: Object.assign({customValues: rightUpperTicks, margin: 20, showMinLabel: true}, lblStyle)},
    {gridIndex: 1, type: 'value', position: 'left', min: -52.714, max: 0, axisLine: axisLineBlack, axisTick: {show: false}, splitLine: {show: false},
      axisLabel: Object.assign({customValues: leftLowerTicks, margin: 30, align: 'left'}, lblStyle)},
    {gridIndex: 1, type: 'value', position: 'right', min: -7.714, max: 45, axisLine: axisLineBlack, axisTick: {show: false}, splitLine: {show: false},
      axisLabel: Object.assign({customValues: rightLowerTicks, margin: 20}, lblStyle)}
  ],
  series: series,
  graphic: graphics
});
</script>
</body></html>
